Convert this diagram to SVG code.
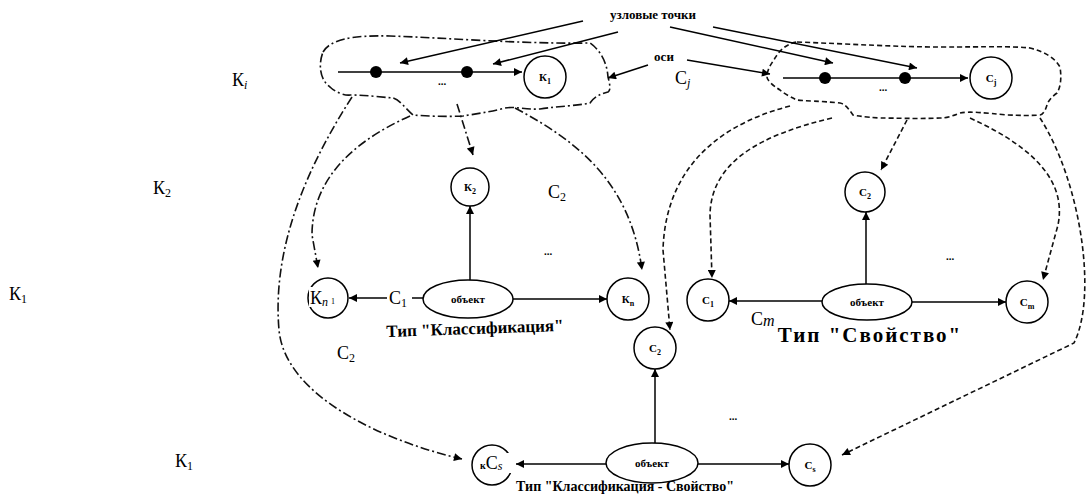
<svg xmlns="http://www.w3.org/2000/svg" width="1088" height="502" viewBox="0 0 1088 502">
<defs>
<marker id="ah" viewBox="0 0 10 10" refX="10" refY="5" markerWidth="11" markerHeight="8" markerUnits="userSpaceOnUse" orient="auto"><path d="M0,0 L10,5 L0,10 z" fill="#000"/></marker>
</defs>
<style>
.ln{fill:none;stroke:#000;stroke-width:1.5}
.dd{fill:none;stroke:#111;stroke-width:1.6;stroke-dasharray:9 3 2 3}
.ds{fill:none;stroke:#111;stroke-width:1.6;stroke-dasharray:5 3}
.cl{fill:#fff;stroke:#000;stroke-width:1.5}
.lbl{font-family:"Liberation Serif","DejaVu Serif",serif;font-size:11px;font-weight:bold;text-anchor:middle}
.ov{font-family:"Liberation Serif","DejaVu Serif",serif;font-size:18px}
.sb{font-size:12px}
.tt{font-family:"Liberation Serif","DejaVu Serif",serif;font-weight:bold}
.dot{fill:#000}
</style>
<rect width="1088" height="502" fill="#fff"/>

<g id="cloud-k">
<path class="dd" d="M323,52 C330,40 350,35 390,36 C450,38 520,44 590,43 C600,50 607,62 608,77 C610,85 611,90 608,92 C600,94 594,97 590,103 C575,106 560,106 540,109 C525,110 515,106 505,108 C490,112 475,114 463,116 C445,117 425,116 413,115 C405,108 400,100 393,98 C380,97 365,95 350,95 C345,96 335,92 330,87 C320,80 318,65 323,52 Z"/>
<line class="ln" x1="338" y1="72" x2="522" y2="72" marker-end="url(#ah)"/>
<circle class="dot" cx="376" cy="72" r="6"/>
<circle class="dot" cx="467" cy="72" r="6"/>
<text class="tt" x="442" y="85" font-size="11" text-anchor="middle">...</text>
<circle class="cl" cx="545" cy="77" r="21"/>
<text class="lbl" x="545" y="81">К<tspan font-size="8" dy="3">1</tspan></text>
</g>

<g id="cloud-c">
<path class="ds" d="M797,42 C850,44 900,47 940,47 C990,47 1010,46 1030,48 C1045,52 1055,58 1060,67 C1062,80 1060,88 1057,93 C1050,98 1048,102 1047,105 C1045,112 1042,115 1040,115 C1025,116 1015,115 1007,115 C985,113 970,111 960,113 C950,117 945,118 940,118 C915,119 895,118 880,118 C865,117 858,116 853,115 C848,108 845,104 840,103 C820,101 805,101 797,100 C788,96 782,92 780,90 C772,85 767,80 767,77 C767,68 773,62 775,58 C780,50 786,44 797,42 Z"/>
<line class="ln" x1="783" y1="78" x2="968" y2="78" marker-end="url(#ah)"/>
<circle class="dot" cx="825" cy="78" r="6"/>
<circle class="dot" cx="905" cy="78" r="6"/>
<text class="tt" x="883" y="91" font-size="11" text-anchor="middle">...</text>
<circle class="cl" cx="991" cy="78" r="21"/>
<text class="lbl" x="991" y="82">C<tspan font-size="8" dy="3">j</tspan></text>
</g>

<g id="labels-top">
<text class="tt" x="653" y="19" font-size="13" text-anchor="middle">узловые точки</text>
<text class="tt" x="664" y="61" font-size="13" text-anchor="middle">оси</text>
</g>

<g id="connectors">
<line class="ln" x1="583" y1="21" x2="400" y2="63" marker-end="url(#ah)"/>
<line class="ln" x1="618" y1="32" x2="493" y2="64" marker-end="url(#ah)"/>
<line class="ln" x1="670" y1="27" x2="833" y2="63" marker-end="url(#ah)"/>
<line class="ln" x1="713" y1="27" x2="917" y2="68" marker-end="url(#ah)"/>
<line class="ln" x1="648" y1="65" x2="608" y2="78" marker-end="url(#ah)"/>
<line class="ln" x1="687" y1="60" x2="770" y2="74" marker-end="url(#ah)"/>

<path class="dd" d="M352,97 C305,170 272,250 279,330 C285,395 380,440 462,459" marker-end="url(#ah)"/>
<path class="dd" d="M410,116 C345,145 312,185 312,235 L318,268" marker-end="url(#ah)"/>
<path class="dd" d="M457,104 L473,155" marker-end="url(#ah)"/>
<path class="dd" d="M515,108 C575,140 630,180 642,270" marker-end="url(#ah)"/>

<path class="ds" d="M790,106 C705,128 665,180 663,250 L670,330" marker-end="url(#ah)"/>
<path class="ds" d="M832,118 C760,135 711,162 710,215 L712,278" marker-end="url(#ah)"/>
<path class="ds" d="M907,120 L881,170" marker-end="url(#ah)"/>
<path class="ds" d="M970,118 C1040,150 1066,185 1058,225 L1043,280" marker-end="url(#ah)"/>
<path class="ds" d="M1040,118 C1080,180 1098,295 1074,343 L842,455" marker-end="url(#ah)"/>

<line class="ln" x1="470" y1="280" x2="470" y2="206" marker-end="url(#ah)"/>
<line class="ln" x1="513" y1="299" x2="607" y2="299" marker-end="url(#ah)"/>
<line class="ln" x1="387" y1="298" x2="349" y2="298" marker-end="url(#ah)"/>
<line class="ln" x1="412" y1="298" x2="424" y2="298"/>

<line class="ln" x1="866" y1="284" x2="866" y2="212" marker-end="url(#ah)"/>
<line class="ln" x1="822" y1="301" x2="729" y2="301" marker-end="url(#ah)"/>
<line class="ln" x1="912" y1="302" x2="1006" y2="302" marker-end="url(#ah)"/>

<line class="ln" x1="655" y1="443" x2="655" y2="369" marker-end="url(#ah)"/>
<line class="ln" x1="606" y1="464" x2="516" y2="464" marker-end="url(#ah)"/>
<line class="ln" x1="698" y1="464" x2="789" y2="464" marker-end="url(#ah)"/>
</g>

<g id="type-classification">
<ellipse class="cl" cx="468" cy="299" rx="45" ry="19"/>
<text class="lbl" x="468" y="303">объект</text>
<text class="tt" x="475" y="334" font-size="17" text-anchor="middle" transform="rotate(-2 475 330)">Тип "Классификация"</text>
<text class="tt" x="548" y="255" font-size="11" text-anchor="middle">...</text>
</g>
<g id="node-k2"><circle class="cl" cx="470" cy="187" r="19"/><text class="lbl" x="470" y="191">К<tspan font-size="8" dy="3">2</tspan></text></g>
<g id="node-kn-left"><circle class="cl" cx="328" cy="298" r="20"/></g>
<g id="node-kn-right"><circle class="cl" cx="628" cy="299" r="21"/><text class="lbl" x="628" y="303">К<tspan font-size="8" dy="3">n</tspan></text></g>

<g id="type-property">
<ellipse class="cl" cx="867" cy="302" rx="45" ry="18"/>
<text class="lbl" x="867" y="306">объект</text>
<text class="tt" x="870" y="342" font-size="21" letter-spacing="2" text-anchor="middle">Тип "Свойство"</text>
<text class="tt" x="950" y="260" font-size="11" text-anchor="middle">...</text>
</g>
<g id="node-c2-right"><circle class="cl" cx="865" cy="192" r="20"/><text class="lbl" x="865" y="196">C<tspan font-size="8" dy="3">2</tspan></text></g>
<g id="node-c1"><circle class="cl" cx="708" cy="300" r="21"/><text class="lbl" x="708" y="304">C<tspan font-size="8" dy="3">1</tspan></text></g>
<g id="node-cm"><circle class="cl" cx="1027" cy="302" r="21"/><text class="lbl" x="1027" y="306">C<tspan font-size="8" dy="3">m</tspan></text></g>

<g id="type-class-property">
<ellipse class="cl" cx="652" cy="463" rx="46" ry="20"/>
<text class="lbl" x="652" y="467">объект</text>
<text class="tt" x="625" y="491" font-size="14" text-anchor="middle">Тип "Классификация - Свойство"</text>
<text class="tt" x="733" y="420" font-size="11" text-anchor="middle">...</text>
</g>
<g id="node-c2-bottom"><circle class="cl" cx="655" cy="348" r="21"/><text class="lbl" x="655" y="352">C<tspan font-size="8" dy="3">2</tspan></text></g>
<g id="node-ks-left"><circle class="cl" cx="492" cy="465" r="20"/></g>
<g id="node-cs"><circle class="cl" cx="810" cy="465" r="21"/><text class="lbl" x="810" y="469">C<tspan font-size="8" dy="3">s</tspan></text></g>

<g id="overlay-labels" class="ov">
<text x="232" y="86">К<tspan font-style="italic" class="sb" dy="3">i</tspan></text>
<text x="675" y="84">C<tspan font-style="italic" class="sb" dy="3">j</tspan></text>
<text x="153" y="194">К<tspan class="sb" dy="3">2</tspan></text>
<text x="548" y="198">C<tspan class="sb" dy="3">2</tspan></text>
<text x="9" y="300">К<tspan class="sb" dy="3">1</tspan></text>
<rect x="309" y="287" width="26" height="20" fill="#fff"/>
<text x="310" y="304">К<tspan font-style="italic" class="sb" dy="2">n</tspan><tspan font-size="8" dx="3" dy="-2">1</tspan></text>
<text x="389" y="304">C<tspan class="sb" dy="3">1</tspan></text>
<text x="337" y="359">C<tspan class="sb" dy="3">2</tspan></text>
<text x="751" y="325">C<tspan font-style="italic" font-size="16" dy="1">m</tspan></text>
<text x="175" y="467">К<tspan class="sb" dy="3">1</tspan></text>
<rect x="486" y="453" width="30" height="20" fill="#fff"/>
<text x="480" y="469"><tspan font-size="10" font-weight="bold">к</tspan>C<tspan font-style="italic" class="sb" dy="1">s</tspan></text>
</g>
</svg>
